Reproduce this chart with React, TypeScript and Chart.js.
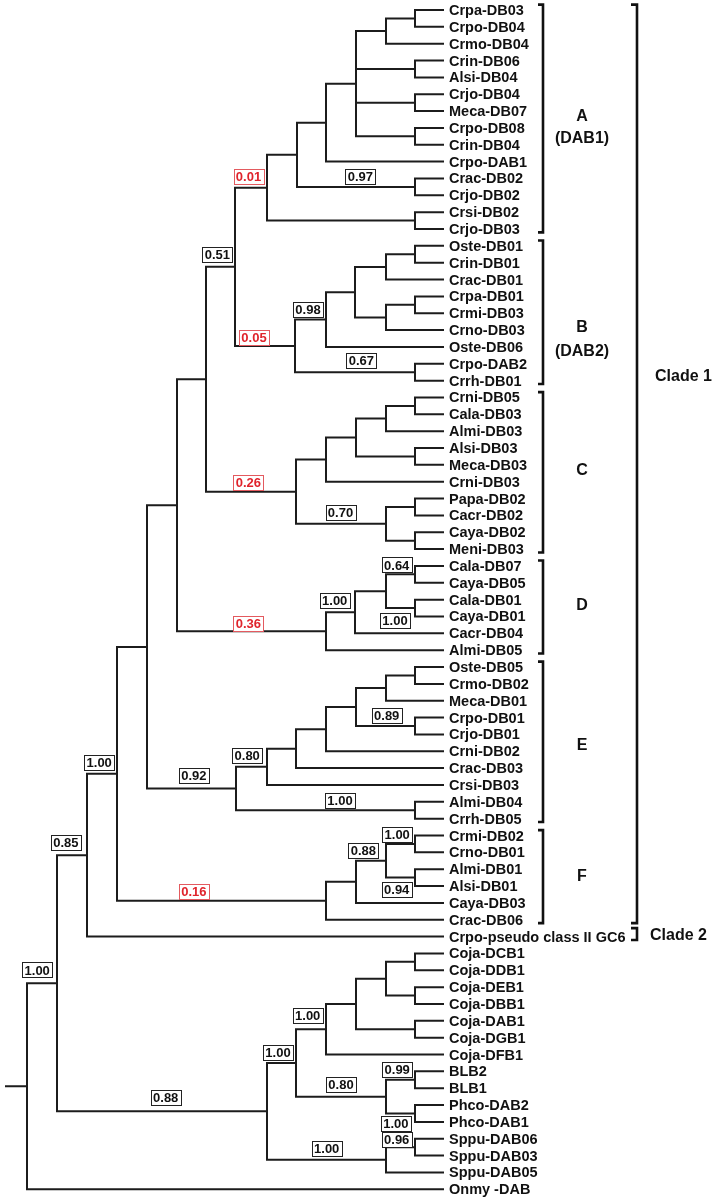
import React, { useEffect, useRef } from "react";
import { Chart, registerables } from "chart.js";

Chart.register(...registerables);

// ---------- DATA ----------
const leafNames: string[] = [
  "Crpa-DB03", "Crpo-DB04", "Crmo-DB04", "Crin-DB06", "Alsi-DB04", "Crjo-DB04", "Meca-DB07",
  "Crpo-DB08", "Crin-DB04", "Crpo-DAB1", "Crac-DB02", "Crjo-DB02", "Crsi-DB02", "Crjo-DB03",
  "Oste-DB01", "Crin-DB01", "Crac-DB01", "Crpa-DB01", "Crmi-DB03", "Crno-DB03", "Oste-DB06",
  "Crpo-DAB2", "Crrh-DB01",
  "Crni-DB05", "Cala-DB03", "Almi-DB03", "Alsi-DB03", "Meca-DB03", "Crni-DB03", "Papa-DB02",
  "Cacr-DB02", "Caya-DB02", "Meni-DB03",
  "Cala-DB07", "Caya-DB05", "Cala-DB01", "Caya-DB01", "Cacr-DB04", "Almi-DB05",
  "Oste-DB05", "Crmo-DB02", "Meca-DB01", "Crpo-DB01", "Crjo-DB01", "Crni-DB02", "Crac-DB03",
  "Crsi-DB03", "Almi-DB04", "Crrh-DB05",
  "Crmi-DB02", "Crno-DB01", "Almi-DB01", "Alsi-DB01", "Caya-DB03", "Crac-DB06",
  "Crpo-pseudo class II GC6",
  "Coja-DCB1", "Coja-DDB1", "Coja-DEB1", "Coja-DBB1", "Coja-DAB1", "Coja-DGB1", "Coja-DFB1",
  "BLB2", "BLB1", "Phco-DAB2", "Phco-DAB1", "Sppu-DAB06", "Sppu-DAB03", "Sppu-DAB05",
  "Onmy -DAB",
];

const leafTipDepth = 444;
const rootStubStart = 5;

type TreeNode = { d: number; c: (TreeNode | number)[] };
const N = (d: number, ...c: (TreeNode | number)[]): TreeNode => ({ d, c });

// node depth values (horizontal position of each split)
const cladeA = N(267, N(297, N(326, N(356, N(386, N(415, 0, 1), 2), N(415, 3, 4), N(415, 5, 6), N(415, 7, 8)), 9), N(415, 10, 11)), N(415, 12, 13));
const cladeB = N(295, N(326, N(355, N(386, N(415, 14, 15), 16), N(386, N(415, 17, 18), 19)), 20), N(415, 21, 22));
const cladeC = N(296, N(326, N(356, N(386, N(415, 23, 24), 25), N(415, 26, 27)), 28), N(386, N(415, 29, 30), N(415, 31, 32)));
const cladeD = N(326, N(355, N(386, N(415, 33, 34), N(415, 35, 36)), 37), 38);
const cladeE = N(236, N(267, N(296, N(326, N(356, N(386, N(415, 39, 40), 41), N(415, 42, 43)), 44), 45), 46), N(415, 47, 48));
const cladeF = N(326, N(356, N(386, N(415, 49, 50), N(415, 51, 52)), 53), 54);
const outgroup = N(267, N(296, N(326, N(356, N(386, N(415, 56, 57), N(415, 58, 59)), N(415, 60, 61)), 62), N(386, N(415, 63, 64), N(415, 65, 66))), N(386, N(415, 67, 68), 69));
const fullTree = N(27, N(57, N(87, N(117, N(147, N(177, N(206, N(235, cladeA, cladeB), cladeC), cladeD), cladeE), cladeF), 55), outgroup), 70);

const supportValues = ["0.01", "0.97", "0.51", "0.05", "0.98", "0.67", "0.26", "0.70", "0.64", "1.00", "1.00", "0.36", "0.89", "0.80", "0.92", "1.00", "1.00", "1.00", "0.88", "0.94", "0.16", "0.85", "1.00", "0.88", "1.00", "1.00", "0.80", "0.99", "1.00", "0.96", "1.00"];
const supportRed = [true, false, false, true, false, false, true, false, false, false, false, true, false, false, false, false, false, false, false, false, true, false, false, false, false, false, false, false, false, false, false];
const supportX = [248.5, 360.3, 217.3, 254, 308, 361.3, 248.3, 340.5, 396.7, 334.7, 395, 248.3, 386.7, 247.2, 193.8, 340, 99.2, 397.2, 363.3, 396.7, 193.8, 65.8, 37.2, 165.7, 278, 307.7, 341, 397.2, 395.8, 396.7, 326.7];
const supportY = [9.88, 9.88, 14.53, 19.41, 17.76, 20.78, 28.03, 29.83, 32.94, 35.07, 36.21, 36.39, 41.88, 44.25, 45.46, 46.91, 44.67, 48.92, 49.89, 52.19, 52.33, 49.43, 56.98, 64.53, 61.88, 59.7, 63.76, 62.9, 66.08, 67.03, 67.57];

const groupLabels = [["A", "(DAB1)"], ["B", "(DAB2)"], ["C"], ["D"], ["E"], ["F"]];
const groupFirstLeaf = [0, 14, 23, 33, 39, 49];
const groupLastLeaf = [13, 22, 32, 38, 48, 54];
const groupLabelY = [[6.35, 7.66], [18.88, 20.3], [27.36], [35.38], [43.69], [51.46]];

const cladeLabels = ["Clade 1", "Clade 2"];
const cladeFirstLeaf = [0, 55];
const cladeLastLeaf = [54, 55];
const cladeLabelY = [21.78, 54.97];

// ---------- LAYOUT (derived) ----------
const leafPixelStep = 16.847;
const topLeafPx = 10;
const Y_MIN = -topLeafPx / leafPixelStep;
const Y_MAX = (1202 - topLeafPx) / leafPixelStep;

type Pt = { x: number | null; y: number | null };

function buildSegments(): Pt[] {
  const pts: Pt[] = [];
  const gap = () => pts.push({ x: null, y: null });
  const walk = (n: TreeNode | number): { x: number; y: number } => {
    if (typeof n === "number") return { x: leafTipDepth, y: n };
    const kids = n.c.map(walk);
    const first = kids[0];
    const last = kids[kids.length - 1];
    pts.push({ x: first.x, y: first.y }, { x: n.d, y: first.y }, { x: n.d, y: last.y }, { x: last.x, y: last.y });
    gap();
    for (let i = 1; i < kids.length - 1; i++) {
      pts.push({ x: n.d, y: kids[i].y }, { x: kids[i].x, y: kids[i].y });
      gap();
    }
    return { x: n.d, y: (first.y + last.y) / 2 };
  };
  const root = walk(fullTree);
  pts.push({ x: rootStubStart, y: root.y }, { x: root.x, y: root.y });
  return pts;
}

const FONT = '"Liberation Sans", Arial, Helvetica, sans-serif';

const annotationPlugin = {
  id: "treeAnnotations",
  afterDatasetsDraw(chart: any) {
    const ctx: CanvasRenderingContext2D = chart.ctx;
    const xs = chart.scales.x;
    const ys = chart.scales.y;
    ctx.save();

    // leaf labels
    ctx.font = `bold 14.5px ${FONT}`;
    ctx.fillStyle = "#111";
    ctx.textAlign = "left";
    ctx.textBaseline = "middle";
    const lx = xs.getPixelForValue(leafTipDepth) + 5;
    leafNames.forEach((name, i) => {
      ctx.fillText(name, lx, ys.getPixelForValue(i) + 1);
    });

    // support value boxes
    ctx.font = `bold 13px ${FONT}`;
    ctx.textAlign = "center";
    supportValues.forEach((v, i) => {
      const cx = xs.getPixelForValue(supportX[i]);
      const cy = ys.getPixelForValue(supportY[i]);
      const w = 30, h = 15;
      const x0 = Math.round(cx - w / 2) + 0.5;
      const y0 = Math.round(cy - h / 2) + 0.5;
      ctx.fillStyle = "#ffffff";
      ctx.fillRect(x0, y0, w, h);
      ctx.lineWidth = 1;
      ctx.strokeStyle = supportRed[i] ? "#e35a5f" : "#222";
      ctx.strokeRect(x0, y0, w, h);
      ctx.fillStyle = supportRed[i] ? "#e0242c" : "#111";
      ctx.fillText(v, cx, cy + 1);
    });

    // brackets
    const bracket = (x: number, top: number, bottom: number, tick: number) => {
      ctx.beginPath();
      ctx.moveTo(x - tick, top);
      ctx.lineTo(x, top);
      ctx.lineTo(x, bottom);
      ctx.lineTo(x - tick, bottom);
      ctx.lineWidth = 2.6;
      ctx.strokeStyle = "#111";
      ctx.lineJoin = "miter";
      ctx.stroke();
    };
    const groupBracketX = 543;
    const cladeBracketX = 637;
    groupFirstLeaf.forEach((f, i) => {
      bracket(groupBracketX, ys.getPixelForValue(f - 0.32), ys.getPixelForValue(groupLastLeaf[i] + 0.2), 5);
    });
    cladeFirstLeaf.forEach((f, i) => {
      const top = i === 1 ? f - 0.5 : f - 0.32;
      bracket(cladeBracketX, ys.getPixelForValue(top), ys.getPixelForValue(cladeLastLeaf[i] + 0.2), 6);
    });

    // group labels
    ctx.font = `bold 16px ${FONT}`;
    ctx.fillStyle = "#111";
    ctx.textAlign = "center";
    groupLabels.forEach((lines, i) => {
      lines.forEach((t, j) => {
        ctx.fillText(t, 582, ys.getPixelForValue(groupLabelY[i][j]));
      });
    });
    ctx.textAlign = "left";
    cladeLabels.forEach((t, i) => {
      ctx.fillText(t, i === 0 ? 655 : 650, ys.getPixelForValue(cladeLabelY[i]));
    });

    ctx.restore();
  },
};

export default function App() {
  const ref = useRef<HTMLCanvasElement>(null);
  useEffect(() => {
    if (!ref.current) return;
    const chart = new Chart(ref.current, {
      type: "scatter",
      data: {
        datasets: [
          {
            data: buildSegments() as any,
            showLine: true,
            spanGaps: false,
            borderColor: "#1c1c1c",
            borderWidth: 2,
            borderJoinStyle: "miter",
            borderCapStyle: "butt",
            pointRadius: 0,
            pointHoverRadius: 0,
            fill: false,
          } as any,
        ],
      },
      options: {
        responsive: false,
        animation: false,
        events: [],
        layout: { padding: 0 },
        plugins: { legend: { display: false }, tooltip: { enabled: false } },
        scales: {
          x: { type: "linear", display: false, min: 0, max: 715 },
          y: { type: "linear", display: false, min: Y_MIN, max: Y_MAX, reverse: true },
        },
      },
      plugins: [annotationPlugin],
    });
    return () => chart.destroy();
  }, []);
  return (
    <div style={{ position: "absolute", left: 0, top: 0, width: 715, height: 1202, background: "#ffffff" }}>
      <canvas ref={ref} width={715} height={1202} style={{ display: "block", width: 715, height: 1202 }} />
    </div>
  );
}
